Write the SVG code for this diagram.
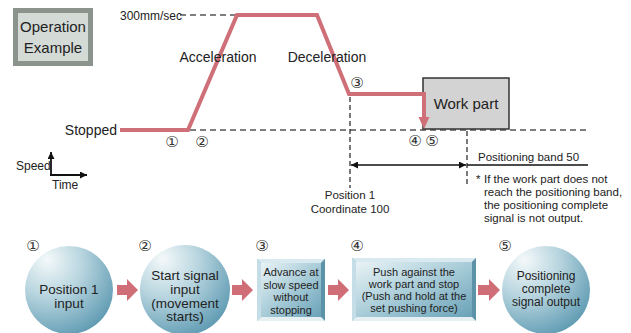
<svg xmlns="http://www.w3.org/2000/svg" width="631" height="333" viewBox="0 0 631 333">
<style>
text{font-family:"Liberation Sans","Noto Sans",Arial,sans-serif;fill:#222}
.lbl{font-size:14px}
.sm{font-size:11.5px}
.num{font-family:"DejaVu Sans",sans-serif;font-size:15px;fill:#333}
.prof{fill:none;stroke:#cf6f78;stroke-width:4;stroke-linejoin:miter}
.dash{fill:none;stroke:#555;stroke-width:1.3;stroke-dasharray:6 4}
.vdash{fill:none;stroke:#222;stroke-width:1.2;stroke-dasharray:5 3}
.ax{stroke:#111;stroke-width:1.8;fill:none}
.blk{fill:#d06e78}
.c{fill:url(#rg)}
.bt{font-size:13.5px;text-anchor:middle}
.bx{font-size:11px;text-anchor:middle}
.ct{font-size:12px;text-anchor:middle}
</style>
<defs>
<radialGradient id="rg" cx="0.3" cy="0.25" r="0.85" fx="0.25" fy="0.15">
<stop offset="0" stop-color="#f4f9fa"/>
<stop offset="0.45" stop-color="#b8d5df"/>
<stop offset="1" stop-color="#5b98b0"/>
</radialGradient>
<linearGradient id="bg" x1="0" y1="0" x2="1" y2="1">
<stop offset="0" stop-color="#e9f3f6"/>
<stop offset="0.5" stop-color="#a8ccd8"/>
<stop offset="1" stop-color="#6aa2b8"/>
</linearGradient>
<marker id="ah" viewBox="0 0 10 10" refX="10" refY="5" markerWidth="9" markerHeight="7" markerUnits="userSpaceOnUse" orient="auto-start-reverse">
<path d="M0,0 L10,5 L0,10 z" fill="#111"/>
</marker>
<marker id="ah2" viewBox="0 0 10 10" refX="10" refY="5" markerWidth="8" markerHeight="7" markerUnits="userSpaceOnUse" orient="auto">
<path d="M0,0 L10,5 L0,10 z" fill="#111"/>
</marker>
</defs>

<g id="title">
<rect x="15.5" y="10.5" width="75" height="53" fill="#d4dad6" stroke="#8b938d" stroke-width="5"/>
<text x="53" y="32" text-anchor="middle" style="font-size:15px">Operation</text>
<text x="53" y="53" text-anchor="middle" style="font-size:15px">Example</text>
</g>

<g id="axes">
<line class="ax" x1="51" y1="176" x2="51" y2="152" marker-end="url(#ah2)"/>
<line class="ax" x1="50" y1="175" x2="87" y2="175" marker-end="url(#ah2)"/>
<text x="16" y="170" style="font-size:12px">Speed</text>
<text x="52" y="189" style="font-size:12px">Time</text>
</g>

<g id="connectors">
<line class="dash" x1="180" y1="15" x2="236" y2="15"/>
<line class="dash" x1="190" y1="130" x2="590" y2="130"/>
<line class="vdash" x1="350" y1="97" x2="350" y2="188"/>
<line class="vdash" x1="467" y1="131" x2="467" y2="187"/>
<line x1="351" y1="165" x2="466" y2="165" stroke="#111" stroke-width="1.5" marker-start="url(#ah)" marker-end="url(#ah)"/>
<line x1="467" y1="165" x2="588" y2="165" stroke="#111" stroke-width="1.5"/>
</g>

<g id="workpart">
<rect x="423" y="78" width="86" height="51" fill="#d3d3d3" stroke="#333" stroke-width="1.5"/>
<text x="466" y="109" text-anchor="middle" style="font-size:15px">Work part</text>
</g>

<g id="profile">
<path class="prof" d="M120,130 L188,130 L237,15 L317,15 L349,94 L424,94 L424,119"/>
<polygon points="418.5,117 429.5,117 424,129" fill="#cf6f78"/>
</g>

<g id="labels">
<text x="120" y="20" style="font-size:12px">300mm/sec</text>
<text x="218" y="62" class="lbl" text-anchor="middle">Acceleration</text>
<text x="327" y="62" class="lbl" text-anchor="middle">Deceleration</text>
<text x="117" y="135" class="lbl" text-anchor="end">Stopped</text>
<text x="172" y="147" class="num" text-anchor="middle">①</text>
<text x="202" y="147" class="num" text-anchor="middle">②</text>
<text x="357" y="88" class="num" text-anchor="middle">③</text>
<text x="415" y="146" class="num" text-anchor="middle">④</text>
<text x="432" y="146" class="num" text-anchor="middle">⑤</text>
<text x="350" y="199" class="sm" text-anchor="middle">Position 1</text>
<text x="350" y="213" class="sm" text-anchor="middle">Coordinate 100</text>
<text x="478" y="161" class="sm">Positioning band 50</text>
<text x="476" y="183" class="sm">*</text>
<text x="484" y="183" class="sm">If the work part does not</text>
<text x="484" y="196" class="sm">reach the positioning band,</text>
<text x="484" y="209" class="sm">the positioning complete</text>
<text x="484" y="222" class="sm">signal is not output.</text>
</g>

<g id="step1">
<text x="33" y="251" class="num" text-anchor="middle">①</text>
<circle class="c" cx="69" cy="290" r="44"/>
<text x="69" y="294" class="bt">Position 1</text>
<text x="69" y="308" class="bt">input</text>
</g>

<g id="step2">
<text x="145" y="251" class="num" text-anchor="middle">②</text>
<circle class="c" cx="185" cy="290" r="45"/>
<text x="185" y="280" class="bt">Start signal</text>
<text x="185" y="294" class="bt">input</text>
<text x="185" y="307.5" class="bt">(movement</text>
<text x="185" y="321" class="bt">starts)</text>
</g>

<g id="step3">
<text x="262" y="251" class="num" text-anchor="middle">③</text>
<rect x="257" y="259" width="68" height="62" fill="#7fb0c3"/>
<polygon points="257,259 325,259 321,263 261,263" fill="#d8eaf0"/>
<polygon points="257,259 261,263 261,317 257,321" fill="#c4dde6"/>
<polygon points="325,259 325,321 321,317 321,263" fill="#5d93a8"/>
<polygon points="257,321 325,321 321,317 261,317" fill="#e6f0f3"/>
<rect x="261" y="263" width="60" height="54" fill="url(#bg)"/>
<text x="291" y="276" class="bx">Advance at</text>
<text x="291" y="288.5" class="bx">slow speed</text>
<text x="291" y="301" class="bx">without</text>
<text x="291" y="313.5" class="bx">stopping</text>
</g>

<g id="step4">
<text x="357" y="251" class="num" text-anchor="middle">④</text>
<rect x="352" y="258" width="124" height="63" fill="#7fb0c3"/>
<polygon points="352,258 476,258 472,262 356,262" fill="#d8eaf0"/>
<polygon points="352,258 356,262 356,317 352,321" fill="#c4dde6"/>
<polygon points="476,258 476,321 472,317 472,262" fill="#5d93a8"/>
<polygon points="352,321 476,321 472,317 356,317" fill="#e6f0f3"/>
<rect x="356" y="262" width="116" height="55" fill="url(#bg)"/>
<text x="414" y="276" class="bx">Push against the</text>
<text x="414" y="288" class="bx">work part and stop</text>
<text x="414" y="300" class="bx">(Push and hold at the</text>
<text x="414" y="312" class="bx">set pushing force)</text>
</g>

<g id="step5">
<text x="505" y="251" class="num" text-anchor="middle">⑤</text>
<circle class="c" cx="546" cy="290" r="44"/>
<text x="546" y="280" class="ct">Positioning</text>
<text x="546" y="293" class="ct">complete</text>
<text x="546" y="306" class="ct">signal output</text>
</g>

<g id="flow-arrows">
<polygon class="blk" points="117,285 127,285 127,279 138,290 127,301 127,295 117,295"/>
<polygon class="blk" points="232,285 242,285 242,279 253,290 242,301 242,295 232,295"/>
<polygon class="blk" points="328,285 338,285 338,279 349,290 338,301 338,295 328,295"/>
<polygon class="blk" points="478,285 489,285 489,279 500,290 489,301 489,295 478,295"/>
</g>
</svg>
